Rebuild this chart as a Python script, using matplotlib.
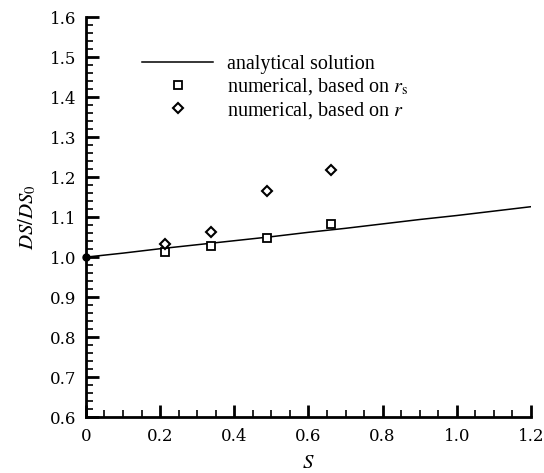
import matplotlib.pyplot as plt
from matplotlib.ticker import MultipleLocator

plt.rcParams['font.family'] = 'Liberation Serif'
plt.rcParams['mathtext.fontset'] = 'stix'

# analytical solution
s_line = [0.0, 0.1, 0.2, 0.3, 0.4, 0.5, 0.6, 0.7, 0.8, 0.9, 1.0, 1.1, 1.2]
ds_line = [1.000, 1.010, 1.021, 1.031, 1.041, 1.051, 1.062, 1.072, 1.083,
           1.094, 1.104, 1.115, 1.126]

# numerical results
s_num = [0.214, 0.337, 0.487, 0.661]
ds_rs = [1.014, 1.028, 1.049, 1.083]
ds_r = [1.034, 1.064, 1.166, 1.218]

# starting point
s0 = [0.0]
ds0 = [1.0]

xticks = [0, 0.2, 0.4, 0.6, 0.8, 1.0, 1.2]
xtick_labels = ['0', '0.2', '0.4', '0.6', '0.8', '1.0', '1.2']

fig = plt.figure(figsize=(5.44, 4.73), dpi=100)
ax = fig.add_axes([0.158, 0.118, 0.818, 0.846])

ax.plot(s_line, ds_line, color='black', lw=1.1, label='analytical solution')
ax.plot(s_num, ds_rs, ls='none', marker='s', ms=5.5, mfc='white', mec='black',
        mew=1.3, label=r'numerical, based on $r_{\mathrm{s}}$')
ax.plot(s_num, ds_r, ls='none', marker='D', ms=5.5, mfc='white', mec='black',
        mew=1.5, label=r'numerical, based on $r$')
ax.plot(s0, ds0, ls='none', marker='o', ms=5, color='black', clip_on=False)

ax.set_xlim(0, 1.2)
ax.set_ylim(0.6, 1.6)
ax.set_xticks(xticks)
ax.set_xticklabels(xtick_labels)
ax.xaxis.set_minor_locator(MultipleLocator(0.05))
ax.yaxis.set_major_locator(MultipleLocator(0.1))
ax.yaxis.set_minor_locator(MultipleLocator(0.02))

for side in ['top', 'right']:
    ax.spines[side].set_visible(False)
for side in ['left', 'bottom']:
    ax.spines[side].set_linewidth(2)

ax.tick_params(which='major', direction='in', length=9, width=2,
               labelsize=12)
ax.tick_params(axis='y', which='major', pad=7)
ax.tick_params(axis='x', which='major', pad=8)
ax.tick_params(which='minor', direction='in', length=5, width=1.2)
for lab in ax.get_xticklabels() + ax.get_yticklabels():
    lab.set_family('DejaVu Serif')

ax.set_xlabel('$S$', fontsize=15, labelpad=6)
ax.set_ylabel('$DS/DS_0$', fontsize=15, labelpad=8)

ax.legend(loc='upper left', bbox_to_anchor=(0.127, 0.905), frameon=False,
          fontsize=14.5, handlelength=3.5, handletextpad=0.7,
          labelspacing=0.12, borderpad=0, borderaxespad=0)

fig.savefig('out.png', dpi=100)
